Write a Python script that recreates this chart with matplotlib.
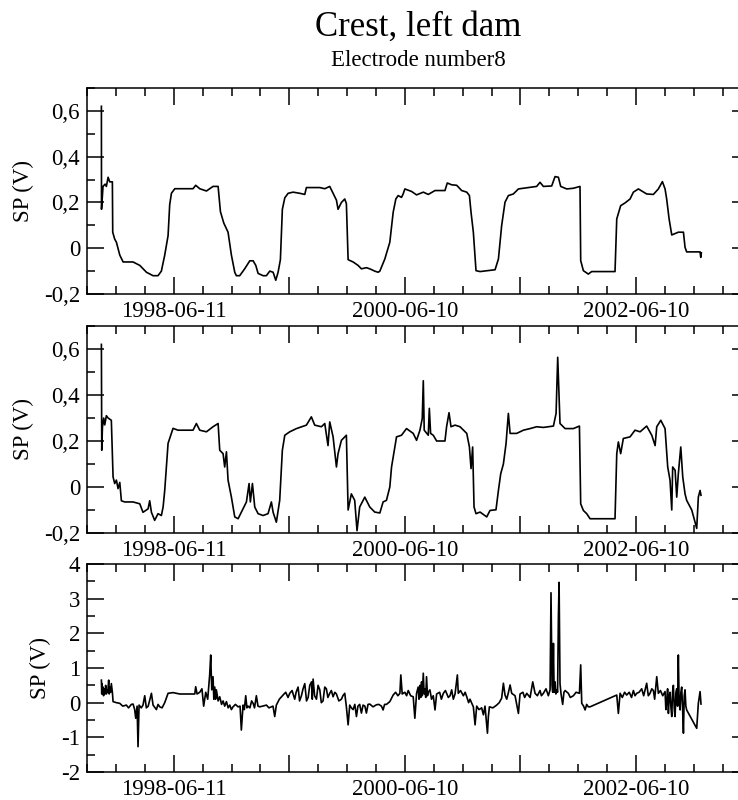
from datetime import datetime, timedelta

import matplotlib
matplotlib.use("Agg")
import matplotlib.pyplot as plt
import matplotlib.dates as mdates
from matplotlib.ticker import MultipleLocator, FixedLocator, FuncFormatter

plt.rcParams["font.family"] = ["Liberation Serif", "DejaVu Serif"]

# time in decimal years, values in volts
p1_t = [1997.815, 1997.816, 1997.829, 1997.847, 1997.858, 1997.873, 1997.887, 1997.910,
        1997.913, 1997.930, 1997.945, 1997.974, 1998.003, 1998.089, 1998.147, 1998.205,
        1998.262, 1998.305, 1998.334, 1998.363, 1998.392, 1998.406, 1998.421, 1998.450,
        1998.608, 1998.631, 1998.666, 1998.724, 1998.781, 1998.825, 1998.845, 1998.874,
        1998.911, 1998.940, 1998.969, 1998.983, 1999.012, 1999.055, 1999.099, 1999.128,
        1999.151, 1999.171, 1999.214, 1999.243, 1999.272, 1999.301, 1999.324, 1999.344,
        1999.364, 1999.381, 1999.402, 1999.431, 1999.474, 1999.531, 1999.575, 1999.589,
        1999.705, 1999.748, 1999.791, 1999.820, 1999.849, 1999.863, 1999.892, 1999.921,
        1999.935, 1999.950, 1999.993, 2000.036, 2000.065, 2000.108, 2000.137, 2000.180,
        2000.209, 2000.224, 2000.267, 2000.310, 2000.339, 2000.362, 2000.382, 2000.411,
        2000.425, 2000.440, 2000.498, 2000.541, 2000.599, 2000.642, 2000.700, 2000.786,
        2000.806, 2000.844, 2000.887, 2000.930, 2000.974, 2000.997, 2001.011, 2001.031,
        2001.054, 2001.089, 2001.219, 2001.248, 2001.276, 2001.305, 2001.334, 2001.377,
        2001.421, 2001.464, 2001.522, 2001.579, 2001.608, 2001.637, 2001.709, 2001.738,
        2001.767, 2001.787, 2001.839, 2001.897, 2001.954, 2001.960, 2001.983, 2002.026,
        2002.055, 2002.257, 2002.272, 2002.306, 2002.344, 2002.387, 2002.416, 2002.459,
        2002.531, 2002.589, 2002.632, 2002.667, 2002.690, 2002.704, 2002.725, 2002.748,
        2002.805, 2002.849, 2002.863, 2002.877, 2002.993, 2002.999, 2003.004]
p1_v = [0.62, 0.17, 0.27, 0.28, 0.27, 0.31, 0.29, 0.29,
        0.07, 0.04, 0.026, -0.03, -0.06, -0.06, -0.075, -0.105,
        -0.12, -0.12, -0.10, -0.03, 0.055, 0.19, 0.24, 0.26,
        0.26, 0.275, 0.26, 0.25, 0.27, 0.27, 0.16, 0.11,
        0.07, -0.03, -0.105, -0.12, -0.12, -0.09, -0.055, -0.055,
        -0.075, -0.11, -0.12, -0.12, -0.10, -0.105, -0.14, -0.105,
        -0.05, 0.17, 0.22, 0.24, 0.245, 0.24, 0.235, 0.265,
        0.265, 0.26, 0.27, 0.24, 0.21, 0.17, 0.20, 0.215,
        0.195, -0.05, -0.06, -0.075, -0.09, -0.085, -0.09, -0.10,
        -0.105, -0.10, -0.047, 0.026, 0.157, 0.215, 0.23, 0.222,
        0.237, 0.259, 0.248, 0.233, 0.245, 0.235, 0.252, 0.252,
        0.285, 0.277, 0.275, 0.252, 0.245, 0.23, 0.157, 0.07,
        -0.098, -0.102, -0.094, -0.047, 0.099, 0.201, 0.23, 0.237,
        0.259, 0.262, 0.266, 0.27, 0.288, 0.27, 0.272, 0.313,
        0.31, 0.27, 0.259, 0.262, 0.27, -0.054, -0.098, -0.113,
        -0.102, -0.102, 0.128, 0.186, 0.198, 0.215, 0.245, 0.259,
        0.237, 0.235, 0.259, 0.291, 0.259, 0.215, 0.128, 0.058,
        0.07, 0.07, 0.004, -0.016, -0.016, -0.04, -0.02]

p2_t = [1997.815, 1997.818, 1997.824, 1997.835, 1997.844, 1997.858, 1997.873, 1997.901,
        1997.916, 1997.930, 1997.945, 1997.959, 1997.974, 1997.988, 1998.017, 1998.089,
        1998.147, 1998.175, 1998.219, 1998.233, 1998.248, 1998.276, 1998.305, 1998.334,
        1998.349, 1998.363, 1998.392, 1998.412, 1998.435, 1998.478, 1998.608, 1998.637,
        1998.666, 1998.724, 1998.781, 1998.825, 1998.839, 1998.868, 1998.882, 1998.897,
        1998.911, 1998.940, 1998.969, 1998.998, 1999.026, 1999.070, 1999.093, 1999.104,
        1999.122, 1999.142, 1999.171, 1999.214, 1999.257, 1999.286, 1999.301, 1999.329,
        1999.358, 1999.381, 1999.402, 1999.445, 1999.503, 1999.589, 1999.632, 1999.661,
        1999.719, 1999.748, 1999.776, 1999.791, 1999.820, 1999.849, 1999.863, 1999.892,
        1999.935, 1999.950, 1999.978, 2000.007, 2000.027, 2000.050, 2000.094, 2000.137,
        2000.180, 2000.224, 2000.252, 2000.281, 2000.310, 2000.325, 2000.353, 2000.368,
        2000.411, 2000.454, 2000.512, 2000.541, 2000.570, 2000.590, 2000.599, 2000.607,
        2000.642, 2000.651, 2000.662, 2000.685, 2000.714, 2000.786, 2000.800, 2000.821,
        2000.838, 2000.873, 2000.916, 2000.974, 2000.997, 2001.011, 2001.025, 2001.037,
        2001.054, 2001.089, 2001.147, 2001.175, 2001.227, 2001.248, 2001.268, 2001.291,
        2001.314, 2001.334, 2001.349, 2001.406, 2001.464, 2001.522, 2001.579, 2001.637,
        2001.724, 2001.747, 2001.761, 2001.770, 2001.781, 2001.825, 2001.897, 2001.949,
        2001.960, 2001.983, 2002.012, 2002.041, 2002.257, 2002.272, 2002.286, 2002.306,
        2002.329, 2002.387, 2002.430, 2002.474, 2002.531, 2002.575, 2002.604, 2002.618,
        2002.653, 2002.690, 2002.713, 2002.733, 2002.748, 2002.756, 2002.777, 2002.791,
        2002.805, 2002.826, 2002.843, 2002.863, 2002.877, 2002.921, 2002.964, 2002.978,
        2002.993, 2003.001]
p2_v = [0.62, 0.16, 0.26, 0.30, 0.27, 0.31, 0.30, 0.29,
        0.044, 0.015, 0.03, -0.007, 0.02, -0.06, -0.065, -0.065,
        -0.073, -0.11, -0.095, -0.06, -0.11, -0.145, -0.116, -0.124,
        -0.087, -0.015, 0.19, 0.22, 0.255, 0.247, 0.247, 0.276,
        0.247, 0.24, 0.262, 0.276, 0.16, 0.145, 0.087, 0.153,
        0.03, -0.044, -0.13, -0.138, -0.11, -0.065, 0.015, -0.065,
        0.015, -0.087, -0.116, -0.124, -0.116, -0.065, -0.11, -0.153,
        -0.058, 0.16, 0.225, 0.24, 0.254, 0.269, 0.305, 0.269,
        0.262, 0.276, 0.18, 0.283, 0.218, 0.087, 0.145, 0.203,
        0.225, -0.10, -0.03, -0.058, -0.19, -0.087, -0.044, -0.087,
        -0.109, -0.113, -0.065, -0.058, 0.0, 0.087, 0.174, 0.218,
        0.225, 0.254, 0.233, 0.203, 0.247, 0.298, 0.462, 0.247,
        0.225, 0.342, 0.233, 0.225, 0.20, 0.20, 0.262, 0.323,
        0.262, 0.269, 0.262, 0.233, 0.174, 0.08, 0.174, -0.087,
        -0.116, -0.109, -0.13, -0.102, -0.099, -0.015, 0.058, 0.10,
        0.189, 0.32, 0.233, 0.233, 0.247, 0.254, 0.262, 0.259,
        0.265, 0.32, 0.564, 0.436, 0.276, 0.254, 0.254, 0.265,
        -0.073, -0.102, -0.116, -0.138, -0.138, 0.145, 0.196, 0.145,
        0.211, 0.218, 0.247, 0.24, 0.265, 0.225, 0.18, 0.262,
        0.29, 0.254, 0.087, 0.03, -0.10, 0.087, 0.073, -0.044,
        0.058, 0.174, 0.044, -0.03, -0.058, -0.10, -0.18, -0.044,
        -0.015, -0.036]

# third channel: (decimal year, volts)
p3_pts = [
    (1997.815, 0.65), (1997.818, 0.25), (1997.821, 0.55), (1997.825, 0.25),
    (1997.829, 0.45), (1997.834, 0.2), (1997.838, 0.4), (1997.845, 0.25),
    (1997.852, 0.5), (1997.858, 0.25), (1997.864, 0.35), (1997.870, 0.3),
    (1997.878, 0.65), (1997.883, 0.25), (1997.887, 0.45), (1997.895, 0.3),
    (1997.901, 0.55), (1997.910, 0.3), (1997.916, 0.03), (1997.945, 0.0),
    (1997.974, -0.02), (1998.000, -0.1), (1998.031, -0.07), (1998.050, -0.15),
    (1998.074, -0.05), (1998.089, -0.04), (1998.103, -0.2), (1998.112, -0.45),
    (1998.124, -0.1), (1998.132, -1.27), (1998.141, -0.07), (1998.160, -0.15),
    (1998.175, -0.07), (1998.190, 0.2), (1998.204, -0.15), (1998.220, -0.1),
    (1998.248, 0.27), (1998.262, -0.07), (1998.291, -0.2), (1998.305, -0.05),
    (1998.320, -0.12), (1998.340, -0.15), (1998.363, 0.0), (1998.392, 0.27),
    (1998.435, 0.29), (1998.493, 0.25), (1998.623, 0.25), (1998.631, 0.46),
    (1998.643, 0.25), (1998.666, 0.3), (1998.685, 0.4), (1998.700, -0.1),
    (1998.718, 0.3), (1998.735, 0.1), (1998.752, 0.8), (1998.761, 1.375),
    (1998.770, 0.37), (1998.781, 0.75), (1998.788, 0.1), (1998.796, 0.45),
    (1998.803, 0.1), (1998.810, 0.37), (1998.825, 0.05), (1998.839, 0.17),
    (1998.855, -0.05), (1998.868, 0.05), (1998.882, -0.1), (1998.897, 0.03),
    (1998.912, -0.15), (1998.926, -0.07), (1998.940, -0.2), (1998.954, -0.12),
    (1998.975, -0.05), (1998.998, -0.12), (1999.015, -0.1), (1999.026, -0.79),
    (1999.041, -0.07), (1999.052, -0.2), (1999.064, 0.2), (1999.074, -0.15),
    (1999.084, -0.1), (1999.100, -0.15), (1999.115, 0.05), (1999.128, -0.02),
    (1999.140, -0.15), (1999.156, 0.2), (1999.170, -0.1), (1999.185, -0.12),
    (1999.210, -0.1), (1999.243, -0.07), (1999.265, -0.15), (1999.286, -0.12),
    (1999.300, -0.1), (1999.315, -0.40), (1999.329, -0.07), (1999.355, 0.1),
    (1999.387, 0.22), (1999.410, 0.3), (1999.430, 0.15), (1999.445, 0.27),
    (1999.465, 0.35), (1999.488, 0.1), (1999.500, 0.3), (1999.517, 0.45),
    (1999.530, 0.05), (1999.546, 0.2), (1999.560, 0.4), (1999.575, 0.55),
    (1999.590, 0.05), (1999.604, 0.15), (1999.618, 0.5), (1999.633, 0.6),
    (1999.640, 0.1), (1999.647, 0.68), (1999.660, 0.2), (1999.676, 0.1),
    (1999.690, 0.5), (1999.705, 0.37), (1999.718, 0.0), (1999.733, 0.05),
    (1999.748, 0.45), (1999.762, 0.4), (1999.775, 0.15), (1999.791, 0.27),
    (1999.805, 0.35), (1999.820, 0.17), (1999.835, 0.3), (1999.849, 0.25),
    (1999.870, 0.05), (1999.892, 0.1), (1999.905, 0.2), (1999.921, 0.27),
    (1999.935, -0.12), (1999.950, -0.64), (1999.964, -0.07), (1999.978, -0.15),
    (1999.993, -0.2), (2000.008, -0.05), (2000.022, -0.4), (2000.035, -0.1),
    (2000.050, -0.05), (2000.065, -0.3), (2000.079, -0.07), (2000.095, -0.1),
    (2000.108, -0.3), (2000.122, -0.05), (2000.137, -0.04), (2000.165, -0.12),
    (2000.195, -0.06), (2000.215, -0.05), (2000.238, -0.1), (2000.252, -0.21),
    (2000.265, -0.05), (2000.281, -0.05), (2000.310, 0.03), (2000.339, 0.22),
    (2000.360, 0.3), (2000.380, 0.2), (2000.397, 0.27), (2000.405, 0.80),
    (2000.417, 0.25), (2000.440, 0.3), (2000.455, 0.2), (2000.469, 0.35),
    (2000.490, 0.2), (2000.512, 0.17), (2000.526, -0.45), (2000.541, 0.27),
    (2000.555, 0.45), (2000.562, 0.1), (2000.570, 0.5), (2000.577, 0.15),
    (2000.584, 0.6), (2000.590, 0.2), (2000.599, 0.85), (2000.606, 0.25),
    (2000.613, 0.4), (2000.620, 0.15), (2000.627, 0.75), (2000.635, 0.2),
    (2000.642, 0.3), (2000.656, 0.37), (2000.670, 0.1), (2000.685, 0.2),
    (2000.700, -0.21), (2000.714, 0.25), (2000.740, 0.3), (2000.755, 0.1),
    (2000.772, 0.27), (2000.790, 0.35), (2000.815, 0.15), (2000.830, 0.2),
    (2000.844, 0.37), (2000.858, 0.1), (2000.873, 0.25), (2000.893, 0.8),
    (2000.901, 0.27), (2000.920, 0.35), (2000.945, 0.2), (2000.960, 0.3),
    (2000.974, 0.17), (2000.990, 0.0), (2001.002, 0.1), (2001.031, -0.12),
    (2001.046, -0.64), (2001.060, -0.1), (2001.080, -0.2), (2001.103, -0.15),
    (2001.118, -0.35), (2001.132, -0.1), (2001.153, -0.88), (2001.161, -0.4),
    (2001.170, -0.12), (2001.200, -0.15), (2001.233, -0.07), (2001.255, 0.0),
    (2001.276, 0.13), (2001.291, 0.56), (2001.305, 0.22), (2001.320, 0.1),
    (2001.335, 0.3), (2001.349, 0.51), (2001.363, 0.27), (2001.392, 0.2),
    (2001.421, -0.31), (2001.435, 0.25), (2001.460, 0.3), (2001.475, 0.15),
    (2001.493, 0.27), (2001.522, 0.15), (2001.545, 0.6), (2001.565, 0.27),
    (2001.585, 0.2), (2001.608, 0.35), (2001.620, 0.2), (2001.637, 0.27),
    (2001.660, 0.4), (2001.680, 0.2), (2001.695, 0.37), (2001.703, 3.17),
    (2001.712, 0.5), (2001.718, 0.3), (2001.724, 1.71), (2001.730, 0.3),
    (2001.738, 0.6), (2001.745, 0.25), (2001.752, 0.37), (2001.760, 0.3),
    (2001.767, 2.48), (2001.773, 3.47), (2001.781, 0.55), (2001.790, 0.25),
    (2001.804, -0.05), (2001.815, 0.3), (2001.825, 0.35), (2001.853, 0.27),
    (2001.870, 0.15), (2001.897, 0.2), (2001.920, 0.3), (2001.949, 0.27),
    (2001.960, 1.09), (2001.969, -0.02), (2001.985, -0.1), (2001.998, -0.21),
    (2002.012, -0.05), (2002.026, -0.12), (2002.041, -0.12), (2002.272, 0.22),
    (2002.286, -0.31), (2002.301, 0.27), (2002.320, 0.15), (2002.340, 0.3),
    (2002.358, 0.22), (2002.380, 0.3), (2002.400, 0.15), (2002.416, 0.35),
    (2002.430, 0.2), (2002.445, 0.27), (2002.465, 0.3), (2002.488, 0.4),
    (2002.505, 0.2), (2002.531, 0.56), (2002.545, 0.2), (2002.560, 0.27),
    (2002.575, 0.4), (2002.589, 0.35), (2002.600, 0.1), (2002.618, 0.75),
    (2002.632, 0.27), (2002.650, 0.35), (2002.670, 0.2), (2002.690, 0.32),
    (2002.697, -0.2), (2002.704, 0.0), (2002.712, 0.4), (2002.719, -0.31),
    (2002.726, 0.2), (2002.733, 0.3), (2002.740, -0.1), (2002.748, -0.4),
    (2002.755, 0.3), (2002.762, 0.5), (2002.770, -0.2), (2002.777, -0.4),
    (2002.784, 0.3), (2002.791, 0.4), (2002.798, -0.1), (2002.805, 1.375),
    (2002.812, 0.0), (2002.820, -0.21), (2002.827, 0.3), (2002.834, 0.45),
    (2002.841, -0.1), (2002.849, -0.88), (2002.856, 0.2), (2002.863, 0.37),
    (2002.870, -0.1), (2002.877, -0.21), (2002.964, -0.74), (2002.978, -0.02),
    (2002.993, 0.32), (2003.001, -0.04),
]
p3_t = [p[0] for p in p3_pts]
p3_v = [p[1] for p in p3_pts]

panels = [(p1_t, p1_v, (-0.2, 0.7), 0.2, 0.1),
          (p2_t, p2_v, (-0.2, 0.7), 0.2, 0.1),
          (p3_t, p3_v, (-2, 4), 1, 0.5)]

base = datetime(1998, 6, 11)
major_dates = [base + timedelta(days=365 * k) for k in range(-1, 6)]
major_labels = [d.strftime("%Y-%m-%d") if k % 2 == 0 else "" for k, d in enumerate(major_dates, 1)]
minor_dates = [base + timedelta(days=91.25 * k) for k in range(-4, 21)]


def yr2date(y):
    yi = int(y)
    start = datetime(yi, 1, 1)
    ndays = (datetime(yi + 1, 1, 1) - start).days
    return start + timedelta(days=(y - yi) * ndays)


def comma_fmt(v, pos):
    if abs(v) < 1e-9:
        return "0"
    return f"{v:g}".replace(".", ",")


fig = plt.figure(figsize=(7.38, 8.0), dpi=100)
tops = [88, 326, 564]
heights = [206, 207, 208]
fs = 16.5

for (t, v, ylim, maj, mnr), top, h in zip(panels, tops, heights):
    ax = fig.add_axes([87 / 738, 1 - (top + h) / 800, 662 / 738, h / 800])
    ax.plot([yr2date(y) for y in t], v, color="black", lw=1.2)
    ax.set_xlim(base - timedelta(days=274), base + timedelta(days=1817))
    ax.set_ylim(*ylim)
    ax.xaxis.set_major_locator(FixedLocator(mdates.date2num(major_dates)))
    ax.set_xticklabels(major_labels)
    ax.xaxis.set_minor_locator(FixedLocator(mdates.date2num(minor_dates)))
    ax.yaxis.set_major_locator(MultipleLocator(maj))
    ax.yaxis.set_minor_locator(MultipleLocator(mnr))
    ax.yaxis.set_major_formatter(FuncFormatter(comma_fmt))
    ax.tick_params(which="both", direction="in", top=True, right=True, width=1.1, labelsize=fs)
    ax.tick_params(which="major", length=12)
    ax.tick_params(which="minor", length=6)
    ax.tick_params(axis="x", pad=5)
    ax.tick_params(axis="y", pad=5)
    for s in ax.spines.values():
        s.set_linewidth(1.1)
    ax.set_ylabel("SP (V)", fontsize=fs, labelpad=7)

cx = (87 + 662 / 2) / 738
fig.text(cx, 1 - 27 / 800, "Crest, left dam", fontsize=25, ha="center", va="center")
fig.text(cx, 1 - 61 / 800, "Electrode number8", fontsize=16.5, ha="center", va="center")

fig.savefig("out.png", dpi=100)
